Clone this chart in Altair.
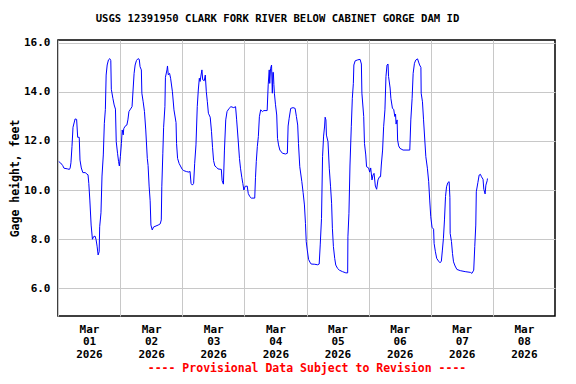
import altair as alt
import pandas as pd

# Hours since 2026-03-01 00:00 (UTC) and gage height (feet)
hours = [
    0.3, 1.05, 1.8, 2.3, 3.75, 4.4, 4.7, 5.0, 5.4, 5.8, 6.6, 7.2, 7.6, 8.2, 8.5, 9.0, 9.6,
    10.6, 11.1, 11.6, 11.9, 12.3, 12.8, 13.3, 13.7, 14.3, 14.7, 15.1, 15.5, 15.9, 16.1,
    16.6, 17.0, 17.5, 17.9, 18.3, 18.6, 19.0, 19.5, 20.0, 20.4, 20.6, 21.2, 21.7, 22.2,
    22.5, 23.0, 23.4, 23.7, 24.1, 24.5, 24.8, 25.2, 25.4, 25.9, 26.6, 27.0, 27.4, 28.0,
    28.6, 29.0, 29.4, 29.8, 30.3, 30.9, 31.4, 31.7, 32.2, 32.4, 32.9, 33.4, 33.9, 34.5,
    34.8, 35.2, 35.6, 35.9, 36.4, 36.9, 38.7, 39.5, 39.9, 40.1, 40.5, 40.8, 41.3, 41.5,
    42.1, 42.3, 42.6, 43.1, 43.5, 44.2, 44.8, 45.6, 45.8, 46.2, 46.8, 47.3, 48.0, 48.6,
    49.7, 50.6, 51.0, 51.4, 51.9, 52.4, 52.8, 53.3, 53.8, 54.2, 54.6, 54.9, 55.2, 55.6,
    55.9, 56.5, 56.9, 57.3, 57.7, 58.1, 58.8, 59.3, 59.7, 60.1, 60.6, 61.2, 61.8, 63.1,
    63.4, 63.9, 64.3, 64.8, 65.3, 66.1, 66.8, 67.9, 68.6, 69.0, 69.6, 70.1, 70.5, 71.0,
    71.4, 71.8, 72.3, 73.1, 73.5, 74.1, 74.7, 76.0, 76.3, 76.6, 77.0, 77.4, 77.8, 78.3,
    79.0, 79.5, 80.8, 81.2, 81.6, 81.8, 82.1, 82.5, 82.8, 83.0, 83.2, 83.4, 83.6, 84.0,
    84.5, 84.8, 85.2, 85.7, 86.7, 87.9, 88.6, 88.9, 89.3, 89.9, 90.8, 91.6, 92.1, 92.6,
    92.9, 93.4, 94.2, 94.7, 95.2, 95.6, 95.9, 96.3, 96.8, 97.3, 97.8, 99.2, 100.3, 100.9,
    101.3, 101.8, 102.2, 102.6, 103.0, 103.2, 103.5, 103.7, 104.3, 104.8, 105.3, 105.7,
    106.0, 106.4, 106.9, 107.3, 108.0, 108.7, 109.9, 111.2, 111.9, 112.0, 112.4, 112.8,
    113.3, 113.7, 114.1, 114.3, 114.8, 115.8, 116.7, 117.2, 117.4, 118.1, 118.4, 118.9,
    119.2, 120.0, 120.4, 120.8, 121.3, 121.7, 122.1, 122.6, 123.1, 123.6, 124.2, 124.6,
    124.9, 125.4, 125.8, 126.3, 126.7, 127.1, 127.5, 127.7, 128.3, 128.6, 129.2, 129.7,
    130.1, 130.4, 130.6, 131.0, 131.2, 131.6, 132.1, 133.3, 135.9, 136.3, 136.8, 137.2,
    137.7, 138.2, 138.9, 139.3, 139.7, 140.2, 140.3, 140.8, 141.2, 141.7, 142.1, 142.7,
    143.2, 143.6, 144.0, 144.5, 145.1, 145.3, 145.8, 146.3, 147.0, 147.6, 148.1, 148.5,
    148.9, 149.3, 149.7, 150.1, 150.6, 151.1, 151.4, 151.5, 152.0, 152.4, 152.8, 153.4,
    154.1, 155.4, 157.3, 159.3, 159.9, 160.6, 161.0, 161.4, 161.6, 162.2, 162.7, 163.2,
    163.6, 164.2, 164.5, 165.0, 165.3, 165.8, 165.9,
]
gage_ft = [
    11.16, 11.10, 11.00, 10.89, 10.86, 10.84, 10.90, 11.11, 11.77, 12.56, 12.90, 12.88, 12.15, 12.15, 11.22, 10.90, 10.71,
    10.71, 10.65, 10.62, 10.27, 9.59, 8.57, 7.99, 8.09, 8.12, 7.98, 7.71, 7.35, 7.48, 8.50,
    9.07, 10.57, 11.43, 12.72, 13.29, 14.69, 15.10, 15.31, 15.36, 15.28, 14.11, 13.74, 13.47, 13.30,
    11.97, 11.50, 11.16, 10.98, 11.37, 11.90, 12.45, 12.25, 12.50, 12.60, 12.65, 12.86, 13.20, 13.30,
    13.40, 14.08, 14.76, 15.10, 15.28, 15.36, 15.33, 15.03, 14.90, 13.95, 13.60, 13.20, 12.45, 11.29,
    11.00, 10.16, 9.56, 8.57, 8.37, 8.49, 8.57, 8.62, 8.78, 10.13, 11.50, 12.56, 13.40, 14.60,
    14.90, 15.06, 14.70, 14.76, 14.56, 14.01, 13.27, 12.75, 11.90, 11.29, 11.08, 10.98, 10.84, 10.79,
    10.75, 10.73, 10.76, 10.27, 10.20, 10.27, 11.09, 11.84, 13.40, 14.08, 14.56, 14.43, 14.65, 14.90,
    14.50, 14.46, 14.69, 14.01, 13.60, 13.13, 12.97, 12.38, 11.74, 11.20, 10.98, 10.93, 10.86, 10.84,
    10.38, 10.24, 11.63, 12.86, 13.20, 13.33, 13.40, 13.36, 13.40, 12.89, 12.04, 11.29, 10.89, 10.52,
    10.27, 10.00, 10.15, 10.16, 9.86, 9.73, 9.67, 9.67, 10.52, 11.16, 11.77, 12.18, 12.99, 13.27,
    13.20, 13.24, 13.24, 14.29, 14.90, 14.35, 14.95, 15.10, 13.95, 14.80, 14.80, 14.30, 13.95, 13.50,
    13.06, 12.11, 11.84, 11.63, 11.50, 11.47, 11.50, 12.61, 12.93, 13.33, 13.36, 13.33, 13.00, 12.65,
    11.90, 10.95, 10.34, 9.89, 9.39, 8.64, 7.89, 7.55, 7.17, 7.06, 6.98, 6.97, 6.95, 6.98,
    7.76, 8.84, 11.36, 12.20, 12.61, 12.97, 12.86, 12.24, 11.97, 10.89, 10.13, 9.46,
    8.44, 7.69, 7.21, 6.94, 6.80, 6.73, 6.67, 6.62, 6.62, 8.09, 9.05, 11.02,
    12.58, 13.74, 14.35, 15.10, 15.27, 15.31, 15.33, 15.14, 13.95, 13.00, 11.90, 11.43,
    10.95, 10.90, 10.73, 10.90, 10.41, 10.61, 10.68, 10.16, 10.03, 10.41, 10.54, 10.54,
    11.02, 11.63, 12.58, 13.27, 14.63, 15.10, 15.14, 14.63, 14.16, 13.74, 13.33, 13.29,
    13.00, 13.10, 12.69, 12.86, 12.04, 11.80, 11.70, 11.63, 11.63, 12.86, 13.74, 14.76,
    15.17, 15.30, 15.35, 15.22, 15.10, 15.00, 13.95, 13.60, 12.89, 12.04, 11.36, 10.89,
    10.34, 9.59, 8.91, 8.48, 8.40, 7.82, 7.48, 7.21, 7.10, 7.03, 7.10, 7.55,
    8.03, 8.78, 9.73, 10.13, 10.30, 10.34, 9.70, 8.23, 7.90, 7.41, 7.07, 6.90,
    6.76, 6.71, 6.67, 6.64, 6.60, 6.73, 7.69, 8.57, 9.93, 10.30, 10.61, 10.64,
    10.54, 10.44, 10.03, 9.84, 10.20, 10.38, 10.47,
]

y_ticks = [6, 8, 10, 12, 14, 16]
day_ticks = [1, 2, 3, 4, 5, 6, 7, 8]

start = pd.Timestamp("2026-03-01T00:00:00")
times = [(start + pd.Timedelta(hours=h)).strftime("%Y-%m-%dT%H:%M:%SZ") for h in hours]
df = pd.DataFrame({"time": times, "gage": gage_ft})

FONT = "DejaVu Sans Mono"

x_axis = alt.Axis(
    values=[alt.DateTime(year=2026, month=3, date=d, utc=True) for d in day_ticks],
    labelExpr="[utcFormat(datum.value, '%b'), utcFormat(datum.value, '%d'), utcFormat(datum.value, '%Y')]",
    labelOffset=31,
    labelPadding=7,
    labelLineHeight=12.5,
    labelOverlap=False,
    labelFlush=False,
    labelBound=False,
    title="---- Provisional Data Subject to Revision ----",
    titleColor="#ff0000",
    titlePadding=3,
    titleFontSize=11.5,
)

y_axis = alt.Axis(
    values=y_ticks,
    format=".1f",
    title="Gage height, feet",
    labelPadding=8,
    titlePadding=3,
    titleFontSize=11.5,
)

chart = (
    alt.Chart(df)
    .mark_line(color="#0000ff", strokeWidth=1)
    .encode(
        x=alt.X(
            "time:T",
            scale=alt.Scale(
                type="utc",
                domain=[
                    alt.DateTime(year=2026, month=3, date=1, utc=True),
                    alt.DateTime(year=2026, month=3, date=9, utc=True),
                ],
                nice=False,
            ),
            axis=x_axis,
        ),
        y=alt.Y(
            "gage:Q",
            scale=alt.Scale(domain=[4.86, 16.12], nice=False, zero=False),
            axis=y_axis,
        ),
    )
    .properties(
        width=497,
        height=276,
        autosize=alt.AutoSizeParams(type="none"),
        padding={"left": 50, "top": 32, "right": 13, "bottom": 60},
        title=alt.TitleParams(
            text="USGS 12391950 CLARK FORK RIVER BELOW CABINET GORGE DAM ID",
            font=FONT,
            fontSize=10.6,
            fontWeight="bold",
            anchor="middle",
            dx=-29,
            offset=12,
            color="#000000",
        ),
    )
    .configure(background="#ffffff")
    .configure_view(stroke="#000000", strokeWidth=1.5)
    .configure_axis(
        labelFont=FONT,
        titleFont=FONT,
        labelFontSize=11,
        labelFontWeight="bold",
        titleFontWeight="bold",
        labelColor="#000000",
        domain=False,
        ticks=False,
        grid=True,
        gridColor="#c8c8c8",
        gridWidth=1,
    )
    .configure_axisY(titleColor="#000000")
)

chart.save("out.html", embed_options={"renderer": "svg", "actions": False})
